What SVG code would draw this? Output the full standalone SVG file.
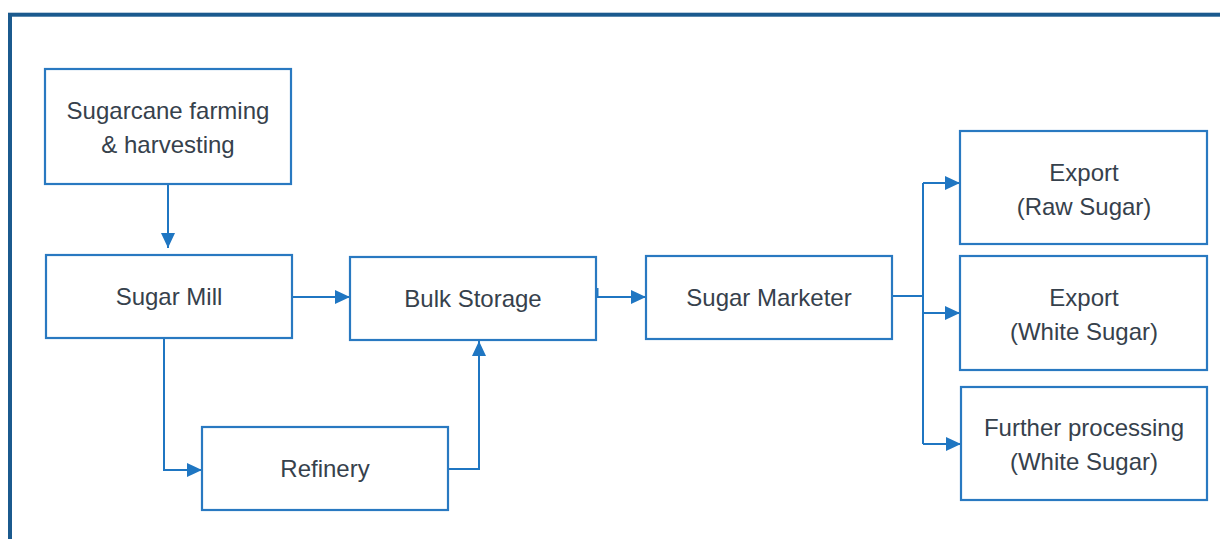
<svg xmlns="http://www.w3.org/2000/svg" width="1220" height="539" viewBox="0 0 1220 539">
<style>
.box{fill:#ffffff;stroke:#2979c1;stroke-width:2.2}
.lbl{font-family:"Liberation Sans",Arial,sans-serif;font-size:24px;fill:#36414c;text-anchor:middle}
.con{fill:none;stroke:#1f76c2;stroke-width:2}
</style>
<defs>
<marker id="ah" markerUnits="userSpaceOnUse" markerWidth="15" markerHeight="14" refX="15" refY="7" orient="auto">
<path d="M0,0 L15,7 L0,14 Z" fill="#1f76c2"/>
</marker>
</defs>
<rect x="0" y="0" width="1220" height="539" fill="#ffffff"/>
<rect x="10" y="14.7" width="1300" height="600" fill="none" stroke="#1b5a8e" stroke-width="4"/>
<g id="connectors">
<path class="con" d="M168,184 V248" marker-end="url(#ah)"/>
<path class="con" d="M292,297 H350" marker-end="url(#ah)"/>
<path class="con" d="M164,338 V470 H202" marker-end="url(#ah)"/>
<path class="con" d="M448,469 H479 V341" marker-end="url(#ah)"/>
<path class="con" d="M597.5,288 V297 H646" marker-end="url(#ah)"/>
<path class="con" d="M892,296 H923"/>
<path class="con" d="M923,183 V444"/>
<path class="con" d="M923,183 H960" marker-end="url(#ah)"/>
<path class="con" d="M923,313 H960" marker-end="url(#ah)"/>
<path class="con" d="M923,444 H961" marker-end="url(#ah)"/>
</g>
<g id="farming">
<rect class="box" x="45" y="69" width="246" height="115"/>
<text class="lbl" x="168" y="119">Sugarcane farming</text>
<text class="lbl" x="168" y="153">&amp; harvesting</text>
</g>
<g id="mill">
<rect class="box" x="46" y="255" width="246" height="83"/>
<text class="lbl" x="169" y="305">Sugar Mill</text>
</g>
<g id="bulk">
<rect class="box" x="350" y="257" width="246" height="83"/>
<text class="lbl" x="473" y="307">Bulk Storage</text>
</g>
<g id="refinery">
<rect class="box" x="202" y="427" width="246" height="83"/>
<text class="lbl" x="325" y="477">Refinery</text>
</g>
<g id="marketer">
<rect class="box" x="646" y="256" width="246" height="83"/>
<text class="lbl" x="769" y="306">Sugar Marketer</text>
</g>
<g id="export-raw">
<rect class="box" x="960" y="131" width="247" height="113"/>
<text class="lbl" x="1084" y="181">Export</text>
<text class="lbl" x="1084" y="215">(Raw Sugar)</text>
</g>
<g id="export-white">
<rect class="box" x="960" y="256" width="247" height="114"/>
<text class="lbl" x="1084" y="306">Export</text>
<text class="lbl" x="1084" y="340">(White Sugar)</text>
</g>
<g id="further">
<rect class="box" x="961" y="387" width="246" height="113"/>
<text class="lbl" x="1084" y="436">Further processing</text>
<text class="lbl" x="1084" y="470">(White Sugar)</text>
</g>
</svg>
